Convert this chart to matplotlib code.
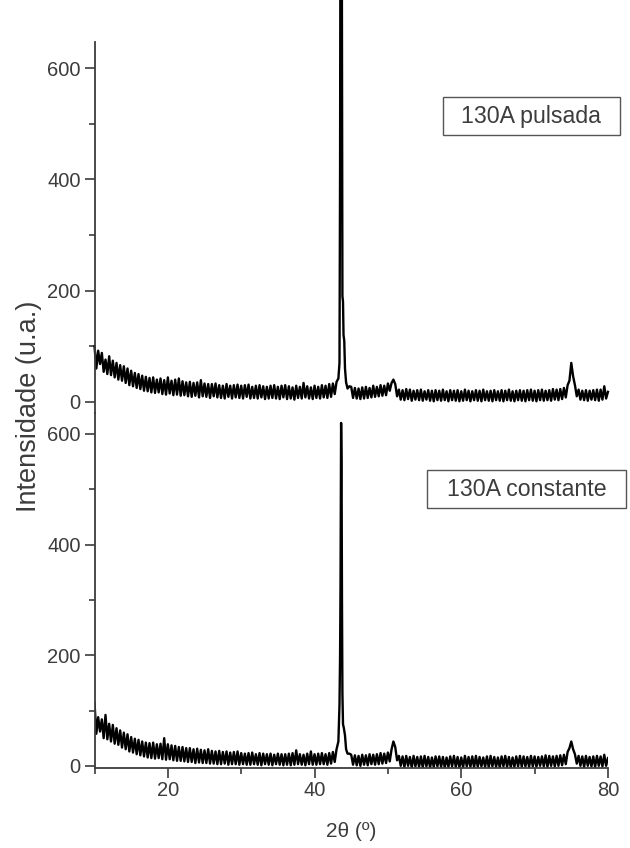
import numpy as np
import matplotlib
matplotlib.use('Agg')
import matplotlib.pyplot as plt
from matplotlib.patches import Rectangle
from matplotlib.ticker import MultipleLocator

plt.rcParams['font.family'] = ['Liberation Sans', 'DejaVu Sans']

# --- 130A pulsada (top panel) ---
# baseline read every 0.25 deg from 10.00 to 43.25
puls_left = [
    100, 60, 92, 68, 88, 54, 76, 50, 82, 48, 74, 44, 70, 40, 66, 38,
    64, 34, 60, 30, 56, 28, 52, 25, 50, 23, 47, 20, 45, 19, 43, 17,
    44, 16, 40, 17, 42, 14, 39, 13, 44, 15, 38, 12, 40, 13, 42, 11,
    37, 12, 35, 10, 36, 9, 34, 11, 35, 8, 39, 10, 33, 9, 32, 7,
    32, 10, 33, 8, 30, 7, 29, 6, 32, 9, 29, 6, 30, 8, 31, 7,
    29, 6, 30, 9, 31, 6, 27, 7, 29, 6, 30, 8, 28, 5, 27, 6,
    29, 7, 30, 6, 27, 5, 29, 8, 30, 5, 28, 6, 26, 4, 29, 7,
    27, 6, 34, 8, 28, 6, 26, 5, 29, 7, 27, 6, 30, 8, 29, 7,
    32, 9, 33, 14, 36, 42,
]
# main reflection (goes off the top of the panel)
puls_peak_x = [43.40, 43.48, 43.52, 43.72, 43.80, 43.88, 43.95, 44.05, 44.15, 44.30, 44.50]
puls_peak_y = [70, 420, 800, 800, 190, 180, 120, 110, 60, 35, 24]
# baseline from 44.75 to 80.00
puls_right = [
    28,
    27, 7, 25, 6, 24, 5, 26, 6, 27, 7, 25, 8, 29, 9, 27, 10,
    30, 11, 29, 12, 33, 20, 34, 40, 32, 10, 22, 4, 21, 3, 23, 5,
    22, 2, 20, 4, 21, 3, 22, 2, 19, 4, 21, 2, 20, 1, 21, 3,
    20, 2, 22, 3, 19, 1, 21, 3, 20, 2, 21, 1, 19, 2, 22, 3,
    20, 1, 19, 3, 21, 2, 20, 1, 22, 3, 19, 2, 20, 1, 21, 3,
    19, 2, 21, 1, 20, 3, 22, 2, 19, 1, 20, 3, 21, 2, 20, 1,
    21, 3, 22, 2, 20, 1, 21, 3, 22, 2, 20, 3, 21, 2, 23, 4,
    22, 3, 23, 5, 25, 8, 30, 38, 70, 46, 30, 10, 22, 4, 20, 3,
    21, 2, 20, 4, 21, 3, 22, 2, 22, 4, 28, 6,
    18,
]

# --- 130A constante (bottom panel) ---
const_left = [
    114, 58, 88, 62, 84, 50, 92, 48, 76, 44, 74, 40, 68, 38, 64, 33,
    60, 30, 57, 26, 52, 24, 49, 21, 47, 19, 44, 17, 42, 15, 41, 14,
    42, 13, 39, 14, 40, 12, 50, 11, 39, 12, 37, 10, 36, 9, 34, 9,
    34, 8, 32, 7, 32, 7, 30, 5, 31, 6, 29, 5, 28, 5, 30, 4,
    27, 4, 26, 3, 27, 3, 25, 4, 26, 2, 24, 3, 25, 3, 26, 2,
    23, 3, 22, 2, 23, 2, 24, 3, 21, 2, 23, 1, 22, 3, 21, 2,
    22, 1, 20, 3, 22, 2, 21, 1, 21, 2, 22, 1, 23, 2, 28, 3,
    21, 2, 20, 1, 22, 3, 26, 2, 21, 2, 22, 3, 23, 3, 21, 2,
    23, 4, 25, 7, 30, 44,
]
const_peak_x = [43.40, 43.48, 43.54, 43.62, 43.68, 43.74, 43.80, 43.88, 44.00, 44.15, 44.30, 44.50]
const_peak_y = [110, 200, 325, 620, 550, 300, 130, 75, 68, 55, 30, 22]
const_right = [
    22,
    20, 2, 19, 1, 18, 0, 20, 2, 19, 1, 21, 3, 20, 2, 21, 3,
    23, 4, 22, 5, 24, 8, 30, 44, 34, 10, 18, 0, 17, -2, 18, 0,
    16, -3, 18, -1, 16, -2, 17, -3, 18, -1, 16, -3, 15, -2, 17, -1,
    17, -2, 16, -3, 15, -2, 17, -1, 18, -2, 16, -3, 15, -3, 18, -1,
    16, -2, 17, -3, 18, -2, 16, -1, 15, -2, 17, -3, 18, -1, 16, -2,
    15, -3, 17, -1, 18, -2, 16, -3, 15, -2, 17, -1, 18, -2, 17, -1,
    16, -2, 18, -1, 17, -2, 16, 0, 17, -1, 19, -2, 18, 0, 17, -1,
    18, 0, 19, 1, 20, 3, 25, 32, 44, 30, 21, 4, 18, 0, 17, -2,
    18, 0, 16, -1, 17, -2, 18, 0, 17, -1, 20, 0,
    14,
]

labels = ['130A pulsada', '130A constante']
grey = '#3c3c3c'


def build(left, px, py, right):
    x = np.concatenate([10 + 0.25 * np.arange(len(left)), px,
                        44.75 + 0.25 * np.arange(len(right))])
    y = np.concatenate([left, py, right])
    return x, y


fig = plt.figure(figsize=(6.3, 8.48), dpi=100)
ax1 = fig.add_axes([0.15, 0.513, 0.815, 0.4375])
ax2 = fig.add_axes([0.15, 0.0943, 0.815, 0.4187])

x1, y1 = build(puls_left, puls_peak_x, puls_peak_y, puls_right)
x2, y2 = build(const_left, const_peak_x, const_peak_y, const_right)
ax1.plot(x1, y1, color='k', lw=1.7, clip_on=False)
ax2.plot(x2, y2, color='k', lw=1.7)

ax1.set_ylim(-20, 647)
ax2.set_ylim(-4, 638)
for ax in (ax1, ax2):
    ax.set_xlim(10, 80)
    ax.yaxis.set_major_locator(MultipleLocator(200))
    ax.yaxis.set_minor_locator(MultipleLocator(100))
    ax.xaxis.set_major_locator(MultipleLocator(20))
    ax.xaxis.set_minor_locator(MultipleLocator(10))
    for s in ['top', 'right']:
        ax.spines[s].set_visible(False)
    ax.spines['left'].set_linewidth(1.3)
    ax.spines['left'].set_color(grey)
    ax.tick_params(which='major', direction='out', length=7, width=1.2,
                   colors=grey, labelsize=14.5, pad=3)
    ax.tick_params(which='minor', direction='out', length=4, width=1.2, colors=grey)
    ax.patch.set_visible(False)

ax1.spines['bottom'].set_visible(False)
ax1.tick_params(axis='x', which='both', bottom=False, labelbottom=False)
ax2.spines['bottom'].set_linewidth(1.3)
ax2.spines['bottom'].set_color(grey)
ax2.tick_params(axis='x', which='major', pad=2)

fig.text(0.046, 0.521, 'Intensidade (u.a.)', rotation=90, ha='center', va='center',
         fontsize=19.5, color=grey)
fig.text(0.557, 0.02, '2θ (º)', ha='center', va='center', fontsize=15, color=grey)

boxes = [(0.703, 0.8408, 0.281, 0.0448), (0.6778, 0.4009, 0.3159, 0.0448)]
for (bx, by, bw, bh), lab in zip(boxes, labels):
    fig.patches.append(Rectangle((bx, by), bw, bh, transform=fig.transFigure,
                                 fill=False, edgecolor='#555555', lw=1.0))
    fig.text(bx + bw / 2, by + bh / 2, lab, ha='center', va='center',
             fontsize=16.7, color=grey)

fig.savefig('out.png', dpi=100)
